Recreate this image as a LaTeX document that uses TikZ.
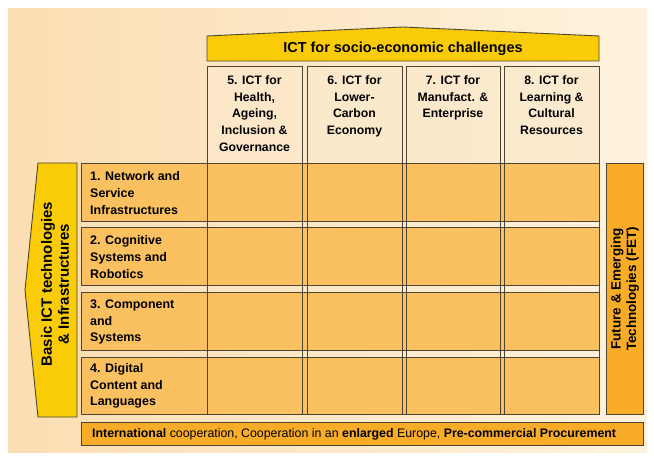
\documentclass[tikz,border=0pt]{standalone}
\usepackage{fontspec}
\setmainfont{Liberation Sans}
\usetikzlibrary{positioning}

\definecolor{bgpeach}{RGB}{251,222,178}
\definecolor{bglight}{RGB}{254,242,222}
\definecolor{banneryellow}{RGB}{250,204,8}
\definecolor{roworange}{RGB}{251,192,96}
\definecolor{headlight}{RGB}{252,233,204}
\definecolor{fetorange}{RGB}{248,172,40}
\definecolor{edgegray}{RGB}{78,68,50}

\tikzset{
  headtext/.style={font=\fontsize{12.3}{16.7}\selectfont\bfseries, align=center, anchor=north, inner sep=0pt},
  rowtext/.style={font=\fontsize{12.5}{16.7}\selectfont\bfseries, align=left, anchor=west, inner sep=0pt},
  boxline/.style={draw=edgegray, line width=0.9bp}
}

\begin{document}
\begin{tikzpicture}[x=1bp,y=-1bp]
    \useasboundingbox (0,0) rectangle (654,457);
    % Draw page and background
    \fill[white] (0,0) rectangle (654,457);
    \shade[left color=bgpeach, right color=bglight] (8,9) rectangle (647,452);

    % Top banner
    \draw[boxline, fill=banneryellow] (207,61) -- (207,36) -- (403,27) -- (599,36) -- (599,61) -- cycle;
    \node[font=\fontsize{14.5}{16}\selectfont\bfseries] (challenges) at (403,49) {ICT for socio-economic challenges};

    % Column heads
    \fill[headlight, opacity=0.7] (207,66) rectangle (302,163);
    \fill[headlight, opacity=0.7] (307,66) rectangle (402,163);
    \fill[headlight, opacity=0.7] (406,66) rectangle (500,163);
    \fill[headlight, opacity=0.7] (504,66) rectangle (599,163);

    % Rows
    \draw[boxline, fill=roworange] (81,163) rectangle (599,221);
    \draw[boxline, fill=roworange] (81,227) rectangle (599,285);
    \draw[boxline, fill=roworange] (81,292) rectangle (599,350);
    \draw[boxline, fill=roworange] (81,357) rectangle (599,414);

    % Column frames
    \draw[boxline] (207,66) rectangle (302,414);
    \draw[boxline] (307,66) rectangle (402,414);
    \draw[boxline] (406,66) rectangle (500,414);
    \draw[boxline] (504,66) rectangle (599,414);

    \node[headtext] (col5) at (254.5,75.5) {5. ICT for\\Health,\\Ageing,\\Inclusion \&\\Governance};
    \node[headtext] (col6) at (354.5,75.5) {6. ICT for\\Lower-\\Carbon\\Economy};
    \node[headtext] (col7) at (453,75.5) {7. ICT for\\Manufact. \&\\Enterprise};
    \node[headtext] (col8) at (551.5,75.5) {8. ICT for\\Learning \&\\Cultural\\Resources};

    \node[rowtext] (row1) at (90,193) {1. Network and\\Service\\Infrastructures};
    \node[rowtext] (row2) at (90,257) {2. Cognitive\\Systems and\\Robotics};
    \node[rowtext] (row3) at (90,322) {3. Component\\and\\Systems};
    \node[rowtext] (row4) at (90,386) {4. Digital\\Content and\\Languages};

    % Left banner
    \draw[boxline, fill=banneryellow] (77,163) -- (38,163) -- (25,290) -- (38,417) -- (77,417) -- cycle;
    \node[rotate=90, align=center, inner sep=0pt, font=\fontsize{15}{17}\selectfont\bfseries] (basic) at (55,284) {Basic ICT technologies\\\& Infrastructures};

    % Right banner
    \draw[boxline, fill=fetorange] (606,163) rectangle (643,414);
    \node[rotate=90, align=center, inner sep=0pt, font=\fontsize{13.5}{15.5}\selectfont\bfseries] (fet) at (625,289) {Future \& Emerging\\Technologies (FET)};

    % Bottom bar
    \draw[boxline, fill=fetorange] (81,422) rectangle (643,445);
    \node[anchor=west, inner sep=0pt, font=\fontsize{12.4}{14}\selectfont] (intl) at (92,434)
        {\textbf{International} cooperation, Cooperation in an \textbf{enlarged} Europe, \textbf{Pre-commercial Procurement}};

\end{tikzpicture}
\end{document}
